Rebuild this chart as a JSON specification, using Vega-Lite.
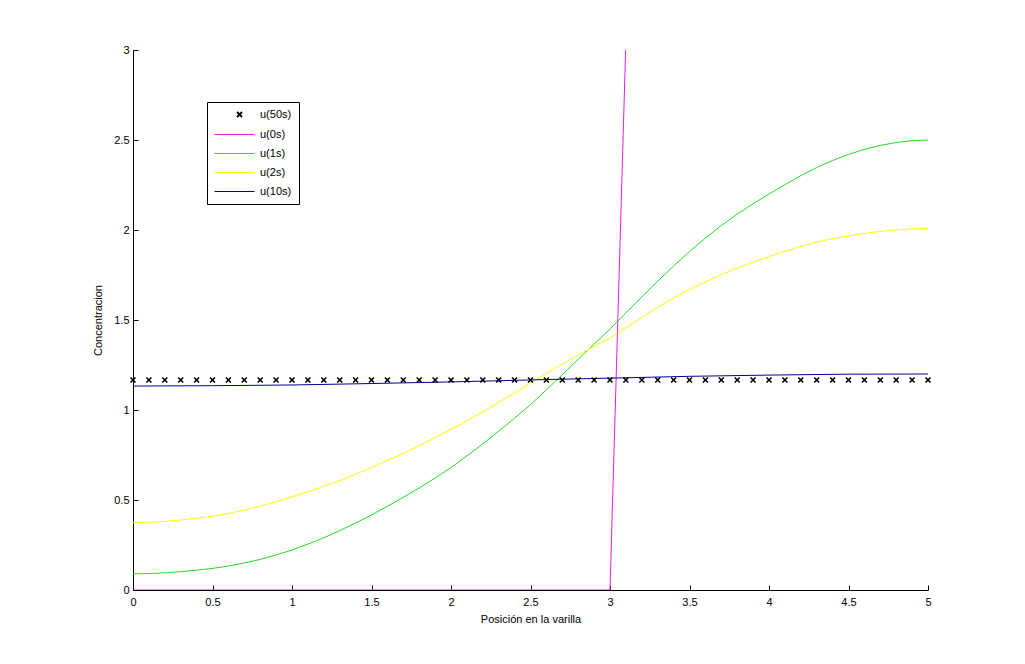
{
  "$schema": "https://vega.github.io/schema/vega-lite/v6.json",
  "width": 795,
  "height": 540,
  "autosize": "none",
  "padding": {"left": 133, "top": 50, "right": 97, "bottom": 74},
  "background": "white",
  "config": {
    "view": {"stroke": null},
    "axis": {
      "grid": false,
      "domainColor": "black",
      "tickColor": "black",
      "labelColor": "black",
      "titleColor": "black",
      "labelFont": "Liberation Sans",
      "titleFont": "Liberation Sans",
      "labelFontSize": 11,
      "titleFontSize": 11,
      "titleFontWeight": "normal",
      "tickSize": -5,
      "labelFlush": false,
      "labelOverlap": false
    },
    "legend": {
      "labelFont": "Liberation Sans",
      "labelFontSize": 11,
      "labelColor": "black"
    }
  },
  "data": {
    "values": [
      {"x": 0, "y": 1.1667, "serie": "u(50s)"}, {"x": 0.1, "y": 1.1667, "serie": "u(50s)"},
      {"x": 0.2, "y": 1.1667, "serie": "u(50s)"}, {"x": 0.3, "y": 1.1667, "serie": "u(50s)"},
      {"x": 0.4, "y": 1.1667, "serie": "u(50s)"}, {"x": 0.5, "y": 1.1667, "serie": "u(50s)"},
      {"x": 0.6, "y": 1.1667, "serie": "u(50s)"}, {"x": 0.7, "y": 1.1667, "serie": "u(50s)"},
      {"x": 0.8, "y": 1.1667, "serie": "u(50s)"}, {"x": 0.9, "y": 1.1667, "serie": "u(50s)"},
      {"x": 1.0, "y": 1.1667, "serie": "u(50s)"}, {"x": 1.1, "y": 1.1667, "serie": "u(50s)"},
      {"x": 1.2, "y": 1.1667, "serie": "u(50s)"}, {"x": 1.3, "y": 1.1667, "serie": "u(50s)"},
      {"x": 1.4, "y": 1.1667, "serie": "u(50s)"}, {"x": 1.5, "y": 1.1667, "serie": "u(50s)"},
      {"x": 1.6, "y": 1.1667, "serie": "u(50s)"}, {"x": 1.7, "y": 1.1667, "serie": "u(50s)"},
      {"x": 1.8, "y": 1.1667, "serie": "u(50s)"}, {"x": 1.9, "y": 1.1667, "serie": "u(50s)"},
      {"x": 2.0, "y": 1.1667, "serie": "u(50s)"}, {"x": 2.1, "y": 1.1667, "serie": "u(50s)"},
      {"x": 2.2, "y": 1.1667, "serie": "u(50s)"}, {"x": 2.3, "y": 1.1667, "serie": "u(50s)"},
      {"x": 2.4, "y": 1.1667, "serie": "u(50s)"}, {"x": 2.5, "y": 1.1667, "serie": "u(50s)"},
      {"x": 2.6, "y": 1.1667, "serie": "u(50s)"}, {"x": 2.7, "y": 1.1667, "serie": "u(50s)"},
      {"x": 2.8, "y": 1.1667, "serie": "u(50s)"}, {"x": 2.9, "y": 1.1667, "serie": "u(50s)"},
      {"x": 3.0, "y": 1.1667, "serie": "u(50s)"}, {"x": 3.1, "y": 1.1667, "serie": "u(50s)"},
      {"x": 3.2, "y": 1.1667, "serie": "u(50s)"}, {"x": 3.3, "y": 1.1667, "serie": "u(50s)"},
      {"x": 3.4, "y": 1.1667, "serie": "u(50s)"}, {"x": 3.5, "y": 1.1667, "serie": "u(50s)"},
      {"x": 3.6, "y": 1.1667, "serie": "u(50s)"}, {"x": 3.7, "y": 1.1667, "serie": "u(50s)"},
      {"x": 3.8, "y": 1.1667, "serie": "u(50s)"}, {"x": 3.9, "y": 1.1667, "serie": "u(50s)"},
      {"x": 4.0, "y": 1.1667, "serie": "u(50s)"}, {"x": 4.1, "y": 1.1667, "serie": "u(50s)"},
      {"x": 4.2, "y": 1.1667, "serie": "u(50s)"}, {"x": 4.3, "y": 1.1667, "serie": "u(50s)"},
      {"x": 4.4, "y": 1.1667, "serie": "u(50s)"}, {"x": 4.5, "y": 1.1667, "serie": "u(50s)"},
      {"x": 4.6, "y": 1.1667, "serie": "u(50s)"}, {"x": 4.7, "y": 1.1667, "serie": "u(50s)"},
      {"x": 4.8, "y": 1.1667, "serie": "u(50s)"}, {"x": 4.9, "y": 1.1667, "serie": "u(50s)"},
      {"x": 5.0, "y": 1.1667, "serie": "u(50s)"},

      {"x": 0, "y": 0, "serie": "u(0s)"}, {"x": 1, "y": 0, "serie": "u(0s)"},
      {"x": 2, "y": 0, "serie": "u(0s)"}, {"x": 3, "y": 0, "serie": "u(0s)"},
      {"x": 3.1, "y": 3.05, "serie": "u(0s)"}, {"x": 4, "y": 3.05, "serie": "u(0s)"},
      {"x": 5, "y": 3.05, "serie": "u(0s)"},

      {"x": 0, "y": 0.090, "serie": "u(1s)"}, {"x": 0.1, "y": 0.091, "serie": "u(1s)"},
      {"x": 0.2, "y": 0.095, "serie": "u(1s)"}, {"x": 0.3, "y": 0.102, "serie": "u(1s)"},
      {"x": 0.4, "y": 0.110, "serie": "u(1s)"}, {"x": 0.5, "y": 0.120, "serie": "u(1s)"},
      {"x": 0.6, "y": 0.133, "serie": "u(1s)"}, {"x": 0.7, "y": 0.150, "serie": "u(1s)"},
      {"x": 0.8, "y": 0.170, "serie": "u(1s)"}, {"x": 0.9, "y": 0.195, "serie": "u(1s)"},
      {"x": 1.0, "y": 0.222, "serie": "u(1s)"}, {"x": 1.1, "y": 0.255, "serie": "u(1s)"},
      {"x": 1.2, "y": 0.290, "serie": "u(1s)"}, {"x": 1.3, "y": 0.330, "serie": "u(1s)"},
      {"x": 1.4, "y": 0.372, "serie": "u(1s)"}, {"x": 1.5, "y": 0.417, "serie": "u(1s)"},
      {"x": 1.6, "y": 0.465, "serie": "u(1s)"}, {"x": 1.7, "y": 0.515, "serie": "u(1s)"},
      {"x": 1.8, "y": 0.567, "serie": "u(1s)"}, {"x": 1.9, "y": 0.622, "serie": "u(1s)"},
      {"x": 2.0, "y": 0.680, "serie": "u(1s)"}, {"x": 2.1, "y": 0.745, "serie": "u(1s)"},
      {"x": 2.2, "y": 0.812, "serie": "u(1s)"}, {"x": 2.3, "y": 0.882, "serie": "u(1s)"},
      {"x": 2.4, "y": 0.955, "serie": "u(1s)"}, {"x": 2.5, "y": 1.030, "serie": "u(1s)"},
      {"x": 2.6, "y": 1.112, "serie": "u(1s)"}, {"x": 2.7, "y": 1.196, "serie": "u(1s)"},
      {"x": 2.8, "y": 1.282, "serie": "u(1s)"}, {"x": 2.9, "y": 1.366, "serie": "u(1s)"},
      {"x": 3.0, "y": 1.450, "serie": "u(1s)"}, {"x": 3.1, "y": 1.540, "serie": "u(1s)"},
      {"x": 3.2, "y": 1.628, "serie": "u(1s)"}, {"x": 3.3, "y": 1.716, "serie": "u(1s)"},
      {"x": 3.4, "y": 1.800, "serie": "u(1s)"}, {"x": 3.5, "y": 1.880, "serie": "u(1s)"},
      {"x": 3.6, "y": 1.955, "serie": "u(1s)"}, {"x": 3.7, "y": 2.025, "serie": "u(1s)"},
      {"x": 3.8, "y": 2.088, "serie": "u(1s)"}, {"x": 3.9, "y": 2.146, "serie": "u(1s)"},
      {"x": 4.0, "y": 2.200, "serie": "u(1s)"}, {"x": 4.1, "y": 2.252, "serie": "u(1s)"},
      {"x": 4.2, "y": 2.302, "serie": "u(1s)"}, {"x": 4.3, "y": 2.347, "serie": "u(1s)"},
      {"x": 4.4, "y": 2.386, "serie": "u(1s)"}, {"x": 4.5, "y": 2.420, "serie": "u(1s)"},
      {"x": 4.6, "y": 2.448, "serie": "u(1s)"}, {"x": 4.7, "y": 2.470, "serie": "u(1s)"},
      {"x": 4.8, "y": 2.486, "serie": "u(1s)"}, {"x": 4.9, "y": 2.496, "serie": "u(1s)"},
      {"x": 5.0, "y": 2.500, "serie": "u(1s)"},

      {"x": 0, "y": 0.374, "serie": "u(2s)"}, {"x": 0.1, "y": 0.376, "serie": "u(2s)"},
      {"x": 0.2, "y": 0.381, "serie": "u(2s)"}, {"x": 0.3, "y": 0.389, "serie": "u(2s)"},
      {"x": 0.4, "y": 0.398, "serie": "u(2s)"}, {"x": 0.5, "y": 0.410, "serie": "u(2s)"},
      {"x": 0.6, "y": 0.425, "serie": "u(2s)"}, {"x": 0.7, "y": 0.444, "serie": "u(2s)"},
      {"x": 0.8, "y": 0.466, "serie": "u(2s)"}, {"x": 0.9, "y": 0.490, "serie": "u(2s)"},
      {"x": 1.0, "y": 0.518, "serie": "u(2s)"}, {"x": 1.1, "y": 0.546, "serie": "u(2s)"},
      {"x": 1.2, "y": 0.576, "serie": "u(2s)"}, {"x": 1.3, "y": 0.608, "serie": "u(2s)"},
      {"x": 1.4, "y": 0.643, "serie": "u(2s)"}, {"x": 1.5, "y": 0.680, "serie": "u(2s)"},
      {"x": 1.6, "y": 0.719, "serie": "u(2s)"}, {"x": 1.7, "y": 0.759, "serie": "u(2s)"},
      {"x": 1.8, "y": 0.802, "serie": "u(2s)"}, {"x": 1.9, "y": 0.847, "serie": "u(2s)"},
      {"x": 2.0, "y": 0.893, "serie": "u(2s)"}, {"x": 2.1, "y": 0.940, "serie": "u(2s)"},
      {"x": 2.2, "y": 0.990, "serie": "u(2s)"}, {"x": 2.3, "y": 1.042, "serie": "u(2s)"},
      {"x": 2.4, "y": 1.095, "serie": "u(2s)"}, {"x": 2.5, "y": 1.150, "serie": "u(2s)"},
      {"x": 2.6, "y": 1.202, "serie": "u(2s)"}, {"x": 2.7, "y": 1.255, "serie": "u(2s)"},
      {"x": 2.8, "y": 1.305, "serie": "u(2s)"}, {"x": 2.9, "y": 1.353, "serie": "u(2s)"},
      {"x": 3.0, "y": 1.400, "serie": "u(2s)"}, {"x": 3.1, "y": 1.458, "serie": "u(2s)"},
      {"x": 3.2, "y": 1.515, "serie": "u(2s)"}, {"x": 3.3, "y": 1.570, "serie": "u(2s)"},
      {"x": 3.4, "y": 1.622, "serie": "u(2s)"}, {"x": 3.5, "y": 1.670, "serie": "u(2s)"},
      {"x": 3.6, "y": 1.712, "serie": "u(2s)"}, {"x": 3.7, "y": 1.752, "serie": "u(2s)"},
      {"x": 3.8, "y": 1.788, "serie": "u(2s)"}, {"x": 3.9, "y": 1.821, "serie": "u(2s)"},
      {"x": 4.0, "y": 1.852, "serie": "u(2s)"}, {"x": 4.1, "y": 1.882, "serie": "u(2s)"},
      {"x": 4.2, "y": 1.909, "serie": "u(2s)"}, {"x": 4.3, "y": 1.933, "serie": "u(2s)"},
      {"x": 4.4, "y": 1.952, "serie": "u(2s)"}, {"x": 4.5, "y": 1.967, "serie": "u(2s)"},
      {"x": 4.6, "y": 1.981, "serie": "u(2s)"}, {"x": 4.7, "y": 1.992, "serie": "u(2s)"},
      {"x": 4.8, "y": 2.000, "serie": "u(2s)"}, {"x": 4.9, "y": 2.006, "serie": "u(2s)"},
      {"x": 5.0, "y": 2.009, "serie": "u(2s)"},

      {"x": 0, "y": 1.133, "serie": "u(10s)"}, {"x": 0.5, "y": 1.135, "serie": "u(10s)"},
      {"x": 1, "y": 1.139, "serie": "u(10s)"}, {"x": 1.5, "y": 1.147, "serie": "u(10s)"},
      {"x": 2, "y": 1.156, "serie": "u(10s)"}, {"x": 2.5, "y": 1.167, "serie": "u(10s)"},
      {"x": 3, "y": 1.177, "serie": "u(10s)"}, {"x": 3.5, "y": 1.187, "serie": "u(10s)"},
      {"x": 4, "y": 1.194, "serie": "u(10s)"}, {"x": 4.5, "y": 1.199, "serie": "u(10s)"},
      {"x": 5, "y": 1.2, "serie": "u(10s)"}
    ]
  },
  "encoding": {
    "x": {
      "field": "x",
      "type": "quantitative",
      "scale": {"domain": [0, 5], "nice": false, "zero": false},
      "axis": {
        "title": "Posición en la varilla",
        "values": [0, 0.5, 1, 1.5, 2, 2.5, 3, 3.5, 4, 4.5, 5],
        "format": "~g",
        "labelPadding": 11,
        "titlePadding": 6
      }
    },
    "y": {
      "field": "y",
      "type": "quantitative",
      "scale": {"domain": [0, 3], "nice": false, "zero": false},
      "axis": {
        "title": "Concentracion",
        "values": [0, 0.5, 1, 1.5, 2, 2.5, 3],
        "format": "~g",
        "labelPadding": 9,
        "titlePadding": 10
      }
    },
    "color": {
      "field": "serie",
      "type": "nominal",
      "scale": {
        "domain": ["u(50s)", "u(0s)", "u(1s)", "u(2s)", "u(10s)"],
        "range": ["#000000", "#E020E0", "#22DD22", "#FFFF00", "#000099"]
      },
      "legend": {
        "title": null,
        "orient": "none",
        "legendX": 74,
        "legendY": 52,
        "padding": 7,
        "strokeColor": "black",
        "fillColor": "white",
        "cornerRadius": 0,
        "symbolSize": 100,
        "symbolStrokeWidth": 1,
        "labelOffset": 35,
        "rowPadding": 7,
        "encode": {
          "symbols": {
            "update": {
              "shape": {"signal": "datum.value === 'u(50s)' ? 'M3.5,-0.5L4.5,0.5M3.5,0.5L4.5,-0.5' : 'M-1,0L7,0'"},
              "strokeWidth": {"signal": "datum.value === 'u(50s)' ? 1.8 : 1"}
            }
          }
        }
      }
    }
  },
  "layer": [
    {
      "transform": [{"filter": "datum.serie !== 'u(50s)'"}],
      "mark": {"type": "line", "clip": true, "strokeWidth": 1}
    },
    {
      "transform": [{"filter": "datum.serie === 'u(50s)'"}],
      "mark": {
        "type": "point",
        "shape": "M-1,-1L1,1M-1,1L1,-1",
        "size": 25,
        "strokeWidth": 1.6,
        "filled": false,
        "opacity": 1
      }
    }
  ]
}
